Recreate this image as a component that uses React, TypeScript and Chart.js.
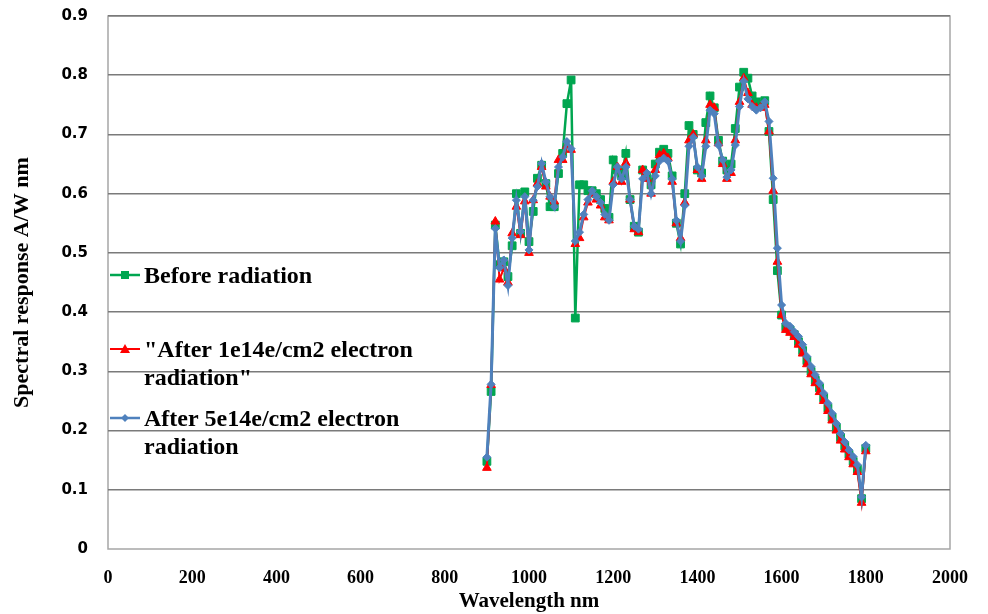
import React, { useEffect, useRef } from "react";
import { Chart, registerables } from "chart.js";

Chart.register(...registerables);

const wavelengths = [
  900, 910, 920, 930, 940, 950, 960, 970, 980, 990,
  1000, 1010, 1020, 1030, 1040, 1050, 1060, 1070, 1080, 1090,
  1100, 1110, 1120, 1130, 1140, 1150, 1160, 1170, 1180, 1190,
  1200, 1210, 1220, 1230, 1240, 1250, 1260, 1270, 1280, 1290,
  1300, 1310, 1320, 1330, 1340, 1350, 1360, 1370, 1380, 1390,
  1400, 1410, 1420, 1430, 1440, 1450, 1460, 1470, 1480, 1490,
  1500, 1510, 1520, 1530, 1540, 1550, 1560, 1570, 1580, 1590,
  1600, 1610, 1620, 1630, 1640, 1650, 1660, 1670, 1680, 1690,
  1700, 1710, 1720, 1730, 1740, 1750, 1760, 1770, 1780, 1790,
  1800,
];

const beforeRadiation = [
  0.148, 0.266, 0.547, 0.480, 0.485, 0.460, 0.512, 0.600, 0.533, 0.603,
  0.519, 0.570, 0.626, 0.648, 0.617, 0.578, 0.578, 0.634, 0.668, 0.752,
  0.792, 0.390, 0.615, 0.615, 0.605, 0.605, 0.600, 0.590, 0.575, 0.560,
  0.657, 0.640, 0.630, 0.668, 0.590, 0.545, 0.535, 0.640, 0.630, 0.615,
  0.650, 0.670, 0.675, 0.668, 0.630, 0.550, 0.515, 0.600, 0.715, 0.700,
  0.640, 0.635, 0.720, 0.765, 0.745, 0.690, 0.655, 0.640, 0.650, 0.710,
  0.780, 0.805, 0.795, 0.765, 0.755, 0.750, 0.757, 0.705, 0.590, 0.470,
  0.395, 0.375, 0.370, 0.362, 0.350, 0.335, 0.318, 0.300, 0.285, 0.272,
  0.255, 0.238, 0.222, 0.205, 0.188, 0.174, 0.160, 0.148, 0.135, 0.085,
  0.170,
];

const after1e14 = [
  0.137, 0.277, 0.553, 0.455, 0.474, 0.450, 0.533, 0.578, 0.530, 0.587,
  0.500, 0.589, 0.617, 0.645, 0.612, 0.595, 0.587, 0.657, 0.657, 0.680,
  0.674, 0.515, 0.525, 0.560, 0.585, 0.600, 0.590, 0.580, 0.560, 0.555,
  0.620, 0.645, 0.620, 0.652, 0.590, 0.540, 0.535, 0.640, 0.625, 0.600,
  0.640, 0.665, 0.668, 0.660, 0.620, 0.550, 0.525, 0.585, 0.690, 0.700,
  0.640, 0.625, 0.690, 0.750, 0.745, 0.685, 0.650, 0.625, 0.635, 0.690,
  0.755, 0.795, 0.770, 0.750, 0.745, 0.745, 0.750, 0.705, 0.605, 0.485,
  0.395, 0.370, 0.365, 0.358, 0.345, 0.330, 0.312, 0.295, 0.280, 0.265,
  0.250, 0.233, 0.217, 0.200, 0.183, 0.168, 0.155, 0.143, 0.130, 0.078,
  0.165,
];

const after5e14 = [
  0.155, 0.278, 0.541, 0.475, 0.488, 0.445, 0.525, 0.589, 0.536, 0.595,
  0.505, 0.589, 0.612, 0.651, 0.620, 0.595, 0.578, 0.645, 0.662, 0.688,
  0.676, 0.520, 0.535, 0.565, 0.590, 0.605, 0.595, 0.585, 0.565, 0.555,
  0.615, 0.645, 0.625, 0.645, 0.590, 0.545, 0.540, 0.625, 0.635, 0.600,
  0.630, 0.655, 0.660, 0.655, 0.625, 0.555, 0.520, 0.580, 0.680, 0.695,
  0.645, 0.630, 0.680, 0.741, 0.735, 0.682, 0.657, 0.628, 0.640, 0.682,
  0.747, 0.790, 0.760, 0.747, 0.741, 0.745, 0.755, 0.722, 0.626, 0.508,
  0.412, 0.381, 0.376, 0.367, 0.359, 0.345, 0.325, 0.308, 0.294, 0.280,
  0.263, 0.246, 0.229, 0.212, 0.195, 0.181, 0.167, 0.156, 0.142, 0.088,
  0.175,
];

const xTickValues = [0, 200, 400, 600, 800, 1000, 1200, 1400, 1600, 1800, 2000];
const yTickValues = [0, 0.1, 0.2, 0.3, 0.4, 0.5, 0.6, 0.7, 0.8, 0.9];

const legendLines = [
  ["Before radiation"],
  ['"After 1e14e/cm2 electron', 'radiation"'],
  ["After 5e14e/cm2 electron", "radiation"],
];

const GREEN = "#00a650";
const RED = "#ff0000";
const BLUE = "#4f81bd";

function toPoints(values: number[]) {
  return wavelengths.map((w, i) => ({ x: w, y: values[i] }));
}

const frameAndLegend = {
  id: "frameAndLegend",
  beforeDraw(chart: any) {
    const { ctx, chartArea } = chart;
    ctx.save();
    ctx.strokeStyle = "#a6a6a6";
    ctx.lineWidth = 1.5;
    ctx.strokeRect(chartArea.left, chartArea.top, chartArea.right - chartArea.left, chartArea.bottom - chartArea.top);
    ctx.restore();
  },
  afterDraw(chart: any) {
    const { ctx, chartArea } = chart;
    const left = chartArea.left;
    const rows = [275, 349, 418];
    const colors = [GREEN, RED, BLUE];
    const widths = [2.5, 2, 2.5];
    ctx.save();
    legendLines.forEach((lines, i) => {
      const y = rows[i];
      ctx.strokeStyle = colors[i];
      ctx.fillStyle = colors[i];
      ctx.lineWidth = widths[i];
      ctx.beginPath();
      ctx.moveTo(left + 2, y);
      ctx.lineTo(left + 32, y);
      ctx.stroke();
      const cx = left + 17;
      ctx.beginPath();
      if (i === 0) {
        ctx.rect(cx - 4, y - 4, 8, 8);
      } else if (i === 1) {
        ctx.moveTo(cx, y - 5);
        ctx.lineTo(cx + 5, y + 4);
        ctx.lineTo(cx - 5, y + 4);
        ctx.closePath();
      } else {
        ctx.moveTo(cx, y - 4);
        ctx.lineTo(cx + 4, y);
        ctx.lineTo(cx, y + 4);
        ctx.lineTo(cx - 4, y);
        ctx.closePath();
      }
      ctx.fill();
      ctx.fillStyle = "#000";
      ctx.font = 'bold 24px "Liberation Serif"';
      ctx.textAlign = "left";
      ctx.textBaseline = "alphabetic";
      lines.forEach((t, k) => {
        ctx.fillText(t, left + 36, y + 8 + k * 28);
      });
    });
    ctx.restore();
  },
};

export default function App() {
  const canvasRef = useRef<HTMLCanvasElement | null>(null);

  useEffect(() => {
    const canvas = canvasRef.current;
    if (!canvas) return;
    const chart = new Chart(canvas, {
      type: "line",
      data: {
        datasets: [
          {
            label: legendLines[2].join(" "),
            data: toPoints(after5e14),
            borderColor: BLUE,
            backgroundColor: BLUE,
            borderWidth: 3,
            pointStyle: "rectRot",
            pointRadius: 4,
            pointBorderWidth: 1,
            tension: 0,
            order: 1,
          },
          {
            label: legendLines[1].join(" "),
            data: toPoints(after1e14),
            borderColor: RED,
            backgroundColor: RED,
            borderWidth: 2,
            pointStyle: "triangle",
            pointRadius: 5,
            pointBorderWidth: 1,
            tension: 0,
            order: 2,
          },
          {
            label: legendLines[0].join(" "),
            data: toPoints(beforeRadiation),
            borderColor: GREEN,
            backgroundColor: GREEN,
            borderWidth: 2.5,
            pointStyle: "rect",
            pointRadius: 5.5,
            pointBorderWidth: 1,
            tension: 0,
            order: 3,
          },
        ],
      },
      options: {
        responsive: false,
        animation: false,
        events: [],
        layout: { autoPadding: false, padding: { left: 0, right: 38, top: 16, bottom: 0 } },
        plugins: {
          legend: { display: false },
          tooltip: { enabled: false },
          title: { display: false },
        },
        scales: {
          x: {
            type: "linear",
            min: 0,
            max: 2000,
            afterBuildTicks: (scale: any) => {
              scale.ticks = xTickValues.map((v) => ({ value: v }));
            },
            afterFit: (scale: any) => {
              scale.height = 65;
            },
            grid: {
              display: true,
              drawOnChartArea: false,
              drawTicks: true,
              tickLength: 18,
              color: "rgba(0,0,0,0)",
              tickColor: "rgba(0,0,0,0)",
            },
            border: { display: false },
            ticks: {
              padding: 1,
              maxRotation: 0,
              autoSkip: false,
              color: "#000",
              font: { family: '"Liberation Serif"', size: 18, weight: "bold" },
              callback: (v: any) => String(v),
            },
            title: {
              display: true,
              text: "Wavelength nm",
              color: "#000",
              font: { family: '"Liberation Serif"', size: 21, weight: "bold" },
              padding: { top: 0, bottom: 0 },
            },
          },
          y: {
            type: "linear",
            min: 0,
            max: 0.9,
            afterBuildTicks: (scale: any) => {
              scale.ticks = yTickValues.map((v) => ({ value: v }));
            },
            afterFit: (scale: any) => {
              scale.width = 108;
            },
            grid: {
              drawTicks: true,
              tickLength: 20,
              tickColor: "rgba(0,0,0,0)",
              color: (c: any) => (c.tick && c.tick.value === 0 ? "rgba(0,0,0,0)" : "#7a7a7a"),
              lineWidth: 1.5,
            },
            border: { display: false },
            ticks: {
              padding: 0,
              autoSkip: false,
              color: "#000",
              font: { family: '"DejaVu Sans"', size: 15, weight: "bold" },
              callback: (v: any) => String(Math.round(Number(v) * 10) / 10),
            },
            title: {
              display: true,
              text: "Spectral response A/W nm",
              color: "#000",
              font: { family: '"Liberation Serif"', size: 22, weight: "bold" },
              padding: { top: 9, bottom: 0 },
            },
          },
        },
      },
      plugins: [frameAndLegend],
    } as any);
    return () => chart.destroy();
  }, []);

  return (
    <div style={{ position: "fixed", left: 0, top: 0, width: 988, height: 614, background: "#fff" }}>
      <canvas ref={canvasRef} width={988} height={614} />
    </div>
  );
}
